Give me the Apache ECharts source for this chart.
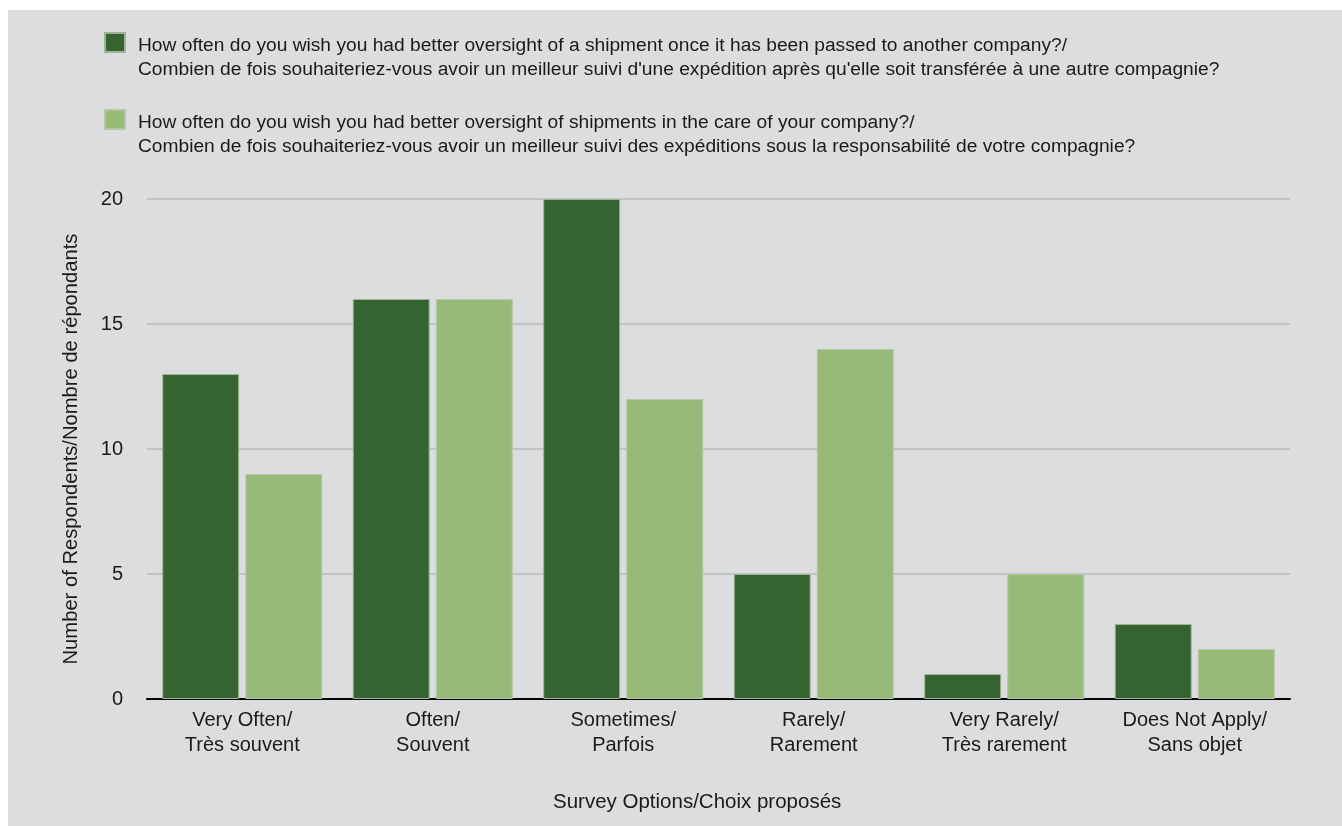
<!DOCTYPE html>
<html>
<head>
<meta charset="utf-8">
<script src="https://cdn.jsdelivr.net/npm/echarts@6/dist/echarts.min.js"></script>
<style>
html,body{margin:0;padding:0;background:#ffffff;}
#chart{position:absolute;left:8px;top:10px;width:1334px;height:816px;background:#dcdddf;}
</style>
</head>
<body>
<div id="chart"></div>
<script>
const categories = ["Very Often/\nTrès souvent", "Often/\nSouvent", "Sometimes/\nParfois", "Rarely/\nRarement", "Very Rarely/\nTrès rarement", "Does Not Apply/\nSans objet"];
const seriesNames = ["How often do you wish you had better oversight of a shipment once it has been passed to another company?/\nCombien de fois souhaiteriez-vous avoir un meilleur suivi d'une expédition après qu'elle soit transférée à une autre compagnie?",
  "How often do you wish you had better oversight of shipments in the care of your company?/\nCombien de fois souhaiteriez-vous avoir un meilleur suivi des expéditions sous la responsabilité de votre compagnie?"];
const passedToOther = [13, 16, 20, 5, 1, 3];
const inCareOfCompany = [9, 16, 12, 14, 5, 2];
const yTicks = {min: 0, max: 20, interval: 5};
const yAxisTitle = "Number of Respondents/Nombre de répondants";
const xAxisTitle = "Survey Options/Choix proposés";

const FONT = "Liberation Sans, Arial, Helvetica, sans-serif";
const colors = ["#356430", "#97ba78"];
const chart = echarts.init(document.getElementById('chart'));
const legendText = {color: "#1a1a1a", fontFamily: FONT, fontSize: 19.2, lineHeight: 24, padding: [0, 0, 0, 8],
  rich: {s: {lineHeight: 30, fontSize: 19.2}}};
const legendBase = {left: 96, itemWidth: 20, itemHeight: 19, itemGap: 10, icon: 'rect', padding: 0,
  textStyle: legendText, selectedMode: false, formatter: n => '{s| }\n' + n};
chart.setOption({
  animation: false,
  textStyle: {fontFamily: FONT},
  legend: [
    Object.assign({data: [seriesNames[0]], top: -6.5}, legendBase),
    Object.assign({data: [seriesNames[1]], top: 70.5}, legendBase)
  ],
  grid: {left: 139, right: 52, top: 189, bottom: 127, containLabel: false},
  xAxis: {
    type: 'category', data: categories,
    axisLine: {lineStyle: {color: '#000', width: 2}},
    axisTick: {show: false},
    axisLabel: {color: '#1a1a1a', fontSize: 20, lineHeight: 25, margin: 9, fontFamily: FONT, interval: 0}
  },
  yAxis: {
    type: 'value', min: yTicks.min, max: yTicks.max, interval: yTicks.interval,
    name: yAxisTitle, nameLocation: 'middle', nameGap: 66, nameRotate: 90,
    nameTextStyle: {color: '#1a1a1a', fontSize: 20.2, fontFamily: FONT},
    axisLine: {show: false}, axisTick: {show: false},
    axisLabel: {color: '#1a1a1a', fontSize: 20, margin: 24, fontFamily: FONT},
    splitLine: {lineStyle: {color: '#b9babc', width: 1.5}}
  },
  graphic: [{type: 'text', left: 545, top: 782, style: {text: xAxisTitle, fill: '#1a1a1a', font: '20.5px ' + FONT}}],
  series: [
    {name: seriesNames[0], type: 'bar', data: passedToOther, barCategoryGap: '16%', barGap: '8%',
     itemStyle: {color: colors[0], borderColor: '#9fb497', borderWidth: 1}},
    {name: seriesNames[1], type: 'bar', data: inCareOfCompany,
     itemStyle: {color: colors[1], borderColor: '#b4c8a6', borderWidth: 1}}
  ]
});
</script>
</body>
</html>
